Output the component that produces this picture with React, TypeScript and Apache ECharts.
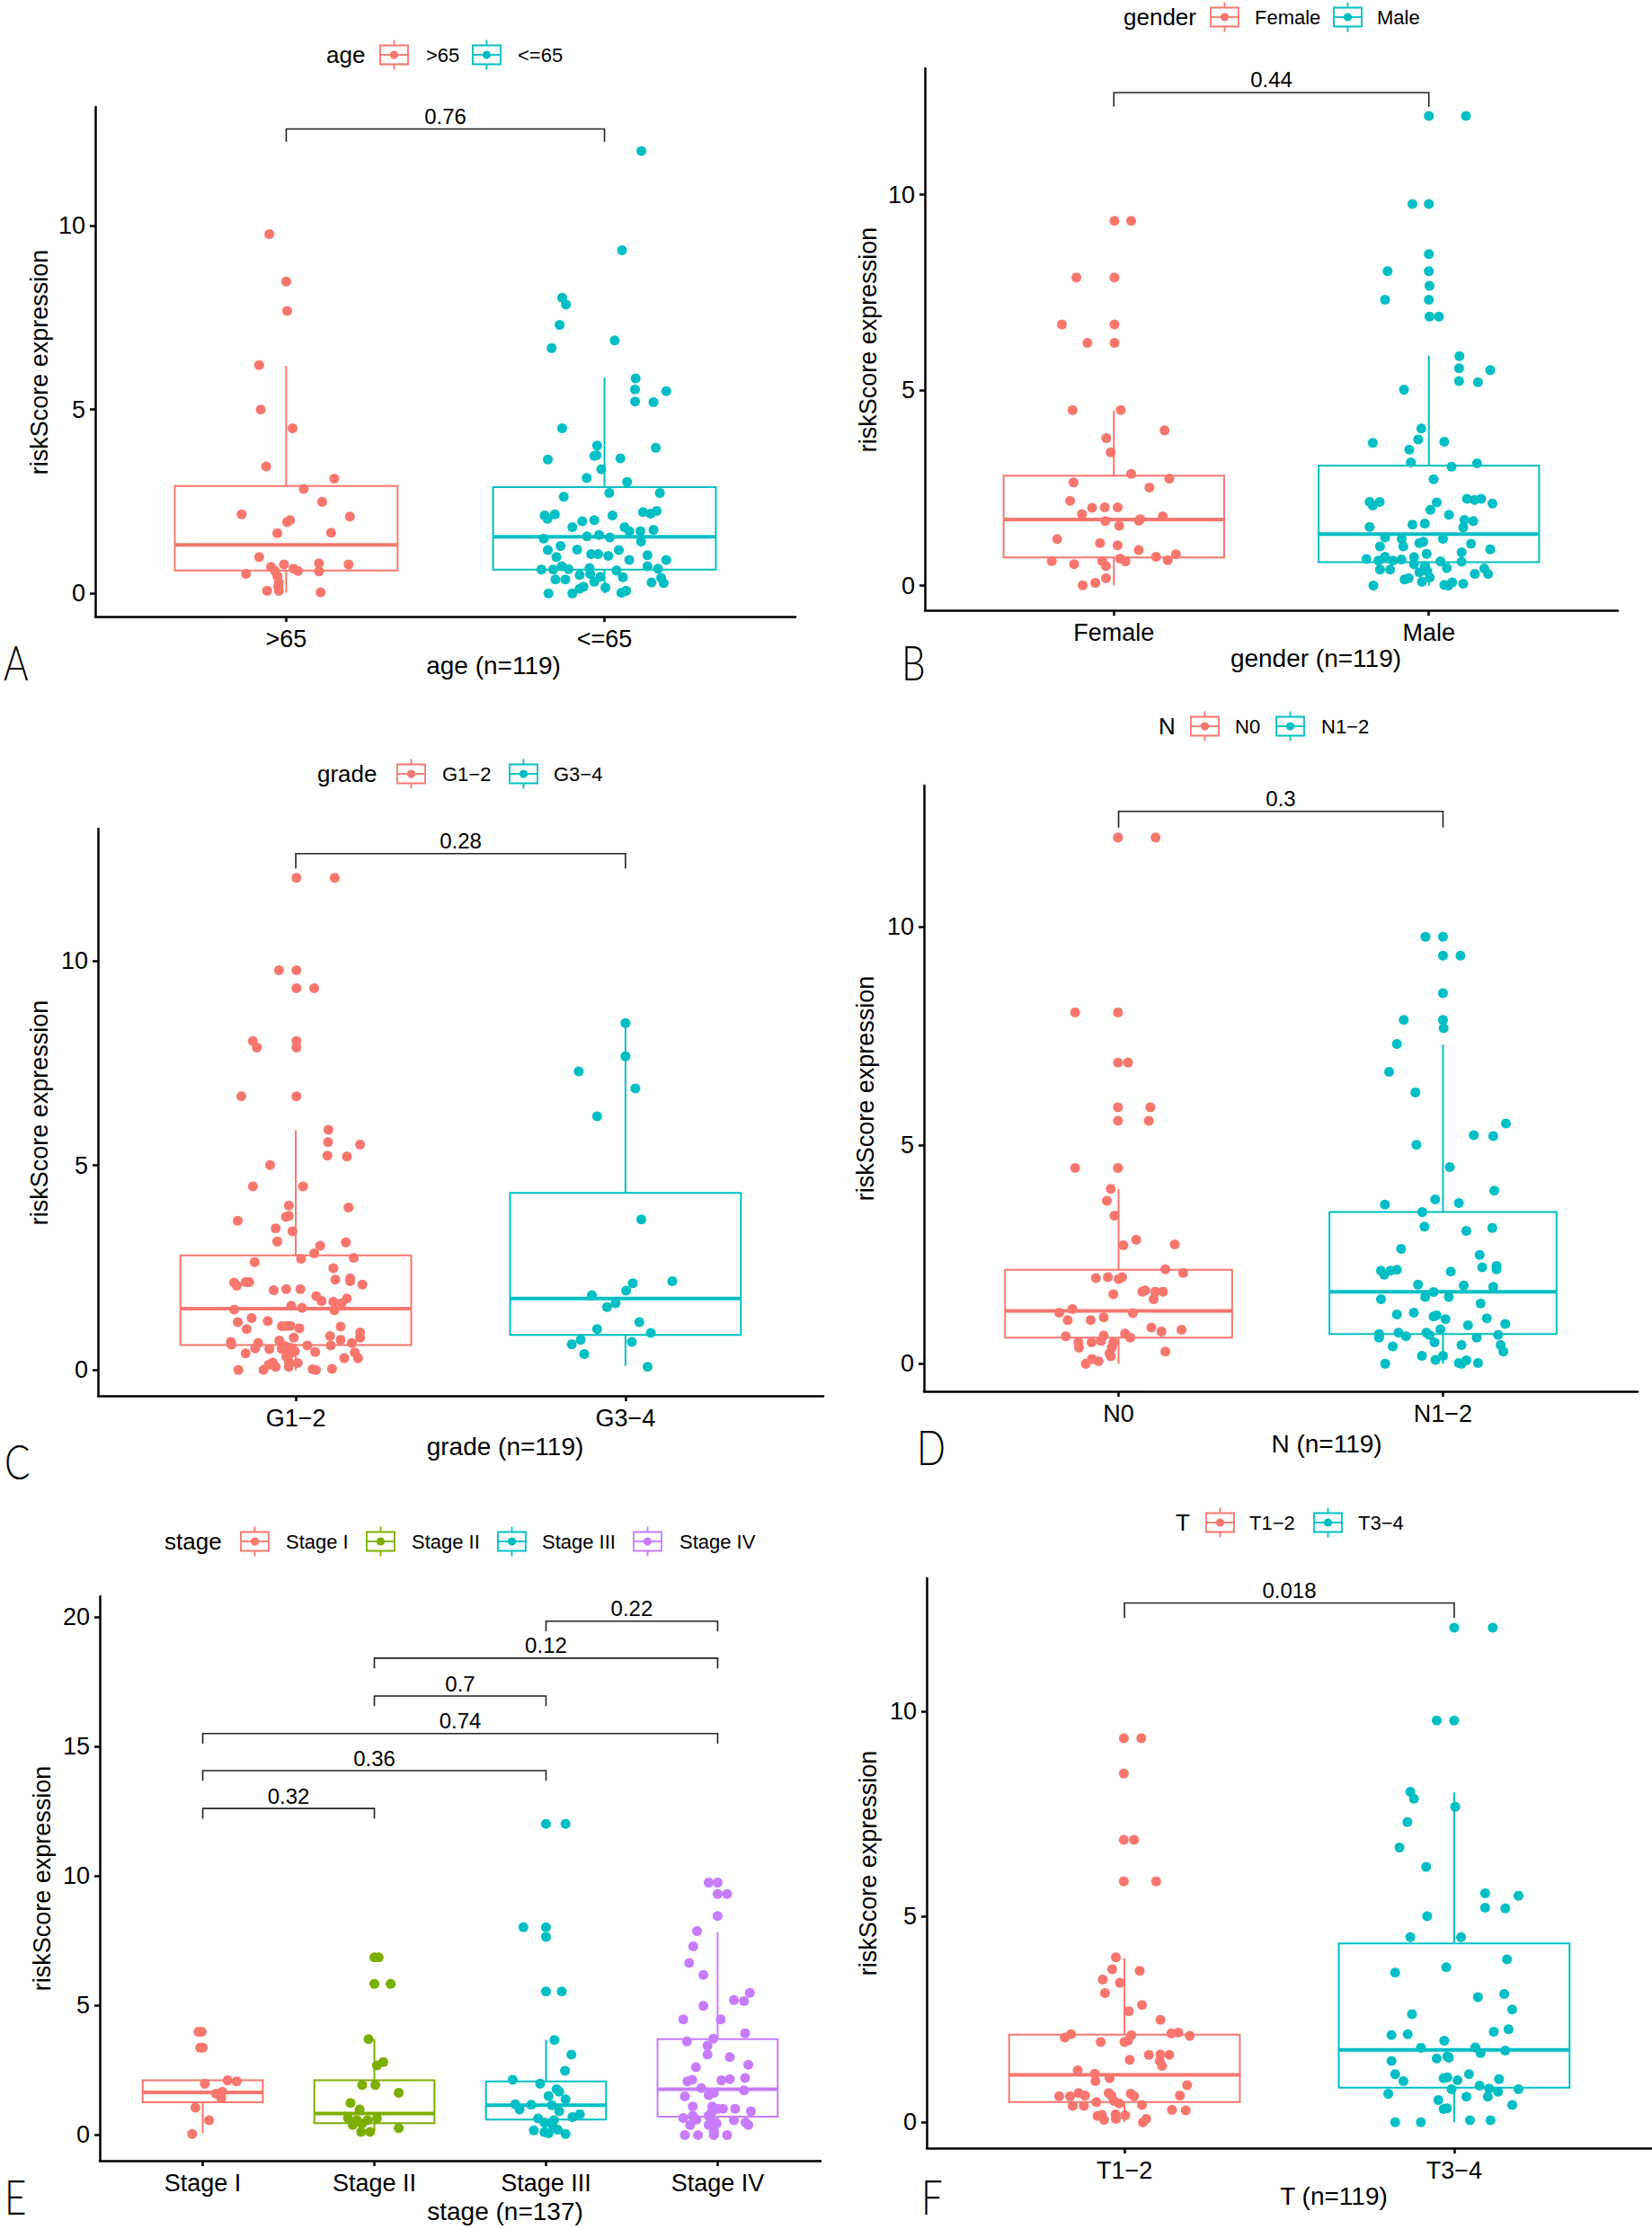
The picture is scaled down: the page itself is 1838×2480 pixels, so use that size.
import React, { useEffect, useRef } from "react";
import * as echarts from "echarts";

const FONT = "'Liberation Sans', Arial, Helvetica, sans-serif";
const LETTER_FONT = "Lato, 'DejaVu Sans', sans-serif";
const C2 = ["#F8766D", "#00BFC4"];
const C4 = ["#F8766D", "#7CAE00", "#00BFC4", "#C77CFF"];

// ---------- Panel A: age ----------
const AGE_CATS = [">65", "<=65"];
const AGE_GT65: number[][] = [
  [-0.053, 9.77], [0, 8.48], [0.003, 7.68], [-0.085, 6.21], [-0.08, 5.0], [0.02, 4.49], [-0.063, 3.45], [0.151, 3.12],
  [0.055, 2.84], [0.113, 2.49], [-0.14, 2.15], [0.2, 2.09], [0.012, 1.99], [0.003, 1.94], [-0.028, 1.64], [0.141, 1.65],
  [-0.085, 0.99], [-0.007, 0.79], [-0.048, 0.72], [0.103, 0.82], [0.196, 0.79], [-0.126, 0.53], [-0.035, 0.61],
  [-0.028, 0.47], [-0.023, 0.3], [-0.025, 0.18], [0.023, 0.67], [0.037, 0.61], [0.103, 0.6], [-0.06, 0.07],
  [-0.023, 0.07], [0.108, 0.03],
];
const AGE_LE65: number[][] = [
  [0.116, 12.03], [0.055, 9.33], [-0.133, 8.04], [-0.121, 7.86], [-0.141, 7.3], [-0.166, 6.67], [0.032, 6.88],
  [0.098, 5.85], [0.096, 5.55], [0.194, 5.5], [0.096, 5.22], [0.154, 5.2], [-0.133, 4.49], [-0.023, 4.02], [0.161, 3.96],
  [-0.032, 3.74], [-0.025, 3.76], [-0.178, 3.64], [0.05, 3.67], [-0.01, 3.38], [-0.056, 3.14], [0.071, 3.03],
  [-0.128, 2.63], [0.015, 2.73], [0.174, 2.73], [-0.188, 2.12], [-0.179, 2.03], [-0.156, 2.15], [0.025, 2.12],
  [0.121, 2.21], [0.145, 2.17], [0.164, 2.24], [-0.07, 1.96], [-0.032, 1.99], [-0.101, 1.8], [0.063, 1.8], [0.078, 1.69],
  [0.113, 1.69], [0.154, 1.73], [-0.055, 1.55], [-0.017, 1.59], [0.017, 1.52], [-0.191, 1.49], [0.115, 1.41],
  [-0.138, 1.29], [-0.178, 1.18], [-0.086, 1.19], [0.045, 1.18], [-0.042, 1.07], [-0.02, 1.07], [0.012, 1.02],
  [-0.151, 0.99], [0.135, 1.04], [0.078, 0.91], [0.194, 0.91], [-0.198, 0.65], [-0.161, 0.65], [-0.134, 0.74],
  [-0.113, 0.66], [-0.047, 0.69], [0.038, 0.62], [0.135, 0.74], [0.168, 0.67], [-0.154, 0.38], [-0.123, 0.38],
  [-0.078, 0.5], [-0.045, 0.53], [-0.013, 0.45], [0.058, 0.44], [0.178, 0.42], [-0.032, 0.32], [0.148, 0.3],
  [0.186, 0.28], [-0.078, 0.13], [-0.066, 0.18], [0.003, 0.16], [-0.176, 0], [-0.101, 0], [0.053, 0.02], [0.068, 0.07],
];
// [lower whisker, Q1, median, Q3, upper whisker]
const AGE_BOX = [[0.02, 0.62, 1.32, 2.92, 6.19], [0, 0.65, 1.54, 2.89, 5.87]];
const AGE_P = [{ from: 1, to: 2, y: 12.63, p: "0.76" }];

// ---------- Panel B: gender ----------
const GENDER_CATS = ["Female", "Male"];
const GENDER_F: number[][] = [
  [0.002, 9.33], [0.055, 9.33], [-0.119, 7.88], [0.002, 7.88], [-0.165, 6.68], [0.002, 6.68], [-0.084, 6.21],
  [0.002, 6.21], [-0.131, 4.49], [0.022, 4.49], [0.161, 3.97], [-0.024, 3.77], [-0.01, 3.41], [0.055, 2.86],
  [0.176, 2.74], [-0.128, 2.64], [0.113, 2.51], [-0.139, 2.17], [-0.069, 1.99], [-0.029, 2.0], [0.012, 2.0],
  [-0.101, 1.83], [0.155, 1.77], [-0.027, 1.65], [0.079, 1.66], [0.084, 1.7], [0.017, 1.53], [-0.18, 1.19],
  [-0.044, 1.09], [0.012, 1.03], [0.079, 0.91], [0.197, 0.8], [0.134, 0.74], [0.171, 0.65], [-0.197, 0.63],
  [-0.037, 0.63], [0.02, 0.69], [0.037, 0.62], [-0.126, 0.55], [-0.025, 0.5], [-0.025, 0.19], [-0.059, 0.07],
  [-0.099, 0.01],
];
const GENDER_M: number[][] = [
  [0, 12.01], [0.118, 12.01], [-0.052, 9.76], [0, 9.76], [0, 8.48], [-0.131, 8.04], [0, 8.04], [0.002, 7.67],
  [-0.139, 7.31], [0, 7.31], [0.002, 6.88], [0.032, 6.88], [0.097, 5.87], [0.096, 5.56], [0.195, 5.51], [0.096, 5.23],
  [0.156, 5.2], [-0.079, 5.01], [-0.024, 4.02], [-0.034, 3.74], [-0.178, 3.65], [0.049, 3.68], [-0.062, 3.48],
  [-0.057, 3.15], [0.153, 3.13], [0.072, 3.04], [0.015, 2.72], [0.121, 2.22], [0.145, 2.19], [0.166, 2.22],
  [0.202, 2.1], [-0.188, 2.14], [-0.178, 2.05], [-0.156, 2.14], [0.025, 2.13], [0.005, 1.94], [0.064, 1.81],
  [0.113, 1.68], [0.141, 1.65], [-0.052, 1.56], [-0.013, 1.59], [-0.188, 1.5], [0.109, 1.49], [-0.139, 1.23],
  [-0.086, 1.2], [0.045, 1.2], [-0.03, 1.09], [-0.018, 1.12], [-0.155, 1.0], [-0.081, 1.0], [0.134, 1.07],
  [0.195, 0.93], [0.104, 0.85], [-0.007, 0.81], [-0.139, 0.74], [-0.047, 0.73], [-0.087, 0.67], [-0.198, 0.68],
  [-0.16, 0.64], [-0.114, 0.64], [0.037, 0.62], [0.104, 0.61], [-0.047, 0.55], [-0.013, 0.5], [-0.155, 0.41],
  [-0.123, 0.41], [0.057, 0.45], [0.176, 0.44], [-0.03, 0.34], [-0.005, 0.37], [0.146, 0.3], [0.188, 0.3],
  [-0.077, 0.16], [-0.064, 0.19], [0.003, 0.21], [-0.176, 0], [-0.022, 0.1], [0.049, 0.02], [0.062, 0], [0.074, 0.08],
  [0.109, 0.05],
];
const GENDER_BOX = [[0, 0.72, 1.69, 2.81, 4.48], [0, 0.6, 1.32, 3.07, 5.88]];
const GENDER_P = [{ from: 1, to: 2, y: 12.61, p: "0.44" }];

// ---------- Panel C: grade ----------
const GRADE_CATS = ["G1\u22122", "G3\u22124"];
const GRADE_12: number[][] = [
  [0.002, 12.03], [0.118, 12.03], [-0.051, 9.77], [0.002, 9.77], [0.002, 9.33], [0.056, 9.33], [-0.13, 8.04],
  [0.002, 8.04], [-0.118, 7.88], [0.002, 7.88], [-0.165, 6.69], [0.002, 6.69], [0.099, 5.87], [0.098, 5.57],
  [0.195, 5.51], [0.096, 5.24], [0.155, 5.22], [-0.078, 5.01], [-0.13, 4.49], [0.022, 4.49], [-0.021, 4.02],
  [0.16, 3.97], [-0.03, 3.74], [-0.021, 3.77], [-0.176, 3.65], [-0.061, 3.46], [-0.01, 3.39], [-0.056, 3.14],
  [0.152, 3.12], [0.074, 3.04], [0.056, 2.85], [0.016, 2.72], [0.176, 2.74], [-0.125, 2.64], [0.114, 2.49],
  [-0.187, 2.14], [-0.179, 2.06], [-0.152, 2.15], [-0.141, 2.15], [0.12, 2.21], [0.165, 2.24], [0.165, 2.17],
  [0.202, 2.09], [-0.067, 1.95], [-0.029, 1.98], [0.014, 1.98], [0.062, 1.81], [0.078, 1.69], [0.114, 1.67],
  [0.155, 1.75], [0.139, 1.63], [-0.014, 1.57], [0.019, 1.52], [-0.187, 1.48], [0.117, 1.46], [-0.134, 1.27],
  [-0.085, 1.2], [-0.176, 1.17], [-0.149, 1.0], [-0.042, 1.07], [-0.029, 1.08], [-0.016, 1.08], [0.011, 1.02],
  [0.136, 1.06], [0.195, 0.92], [0.195, 0.79], [0.104, 0.83], [-0.006, 0.79], [-0.197, 0.69], [-0.195, 0.62],
  [-0.114, 0.66], [-0.05, 0.72], [-0.037, 0.6], [-0.027, 0.56], [0.035, 0.6], [0.106, 0.6], [0.136, 0.74],
  [0.17, 0.66], [-0.123, 0.53], [-0.08, 0.51], [-0.043, 0.52], [-0.013, 0.54], [-0.003, 0.46], [-0.152, 0.41],
  [0.059, 0.44], [0.179, 0.43], [-0.029, 0.33], [-0.016, 0.4], [0.147, 0.29], [0.189, 0.29], [-0.07, 0.18],
  [-0.082, 0.13], [-0.021, 0.2], [0.006, 0.17], [-0.061, 0.08], [-0.174, 0], [-0.098, 0], [-0.021, 0.08],
  [0.051, 0.02], [0.061, 0], [0.11, 0.03],
];
const GRADE_34: number[][] = [
  [0, 8.48], [0, 7.67], [-0.142, 7.3], [0.03, 6.88], [-0.086, 6.2], [0.048, 3.68], [0.142, 2.17], [0.022, 2.12],
  [0.002, 1.94], [-0.102, 1.83], [-0.03, 1.63], [-0.056, 1.54], [0.042, 1.17], [-0.086, 1.0], [0.077, 0.91],
  [-0.136, 0.74], [-0.163, 0.63], [0.019, 0.69], [-0.125, 0.39], [0.067, 0.08],
];
const GRADE_BOX = [[0, 0.61, 1.5, 2.8, 5.86], [0.1, 0.86, 1.75, 4.33, 8.48]];
const GRADE_P = [{ from: 1, to: 2, y: 12.62, p: "0.28" }];

// ---------- Panel D: N ----------
const N_CATS = ["N0", "N1\u22122"];
const N_0: number[][] = [
  [-0.002, 12.04], [0.114, 12.04], [-0.134, 8.04], [-0.002, 8.04], [-0.002, 6.89], [0.029, 6.89], [-0.002, 5.87],
  [0.098, 5.87], [-0.002, 5.56], [0.093, 5.56], [-0.134, 4.48], [-0.002, 4.48], [-0.024, 4.0], [-0.036, 3.73],
  [-0.013, 3.39], [0.054, 2.84], [0.173, 2.73], [0.015, 2.71], [0.144, 2.16], [0.199, 2.08], [-0.07, 1.96],
  [-0.033, 1.98], [0, 1.94], [0.011, 1.98], [0.073, 1.65], [0.082, 1.68], [0.113, 1.65], [0.137, 1.65],
  [-0.016, 1.59], [0.108, 1.48], [-0.142, 1.25], [-0.183, 1.17], [0.044, 1.16], [-0.157, 1.0], [-0.086, 1.0],
  [-0.046, 1.06], [0.101, 0.83], [0.132, 0.74], [0.194, 0.78], [-0.163, 0.63], [-0.046, 0.65], [0.02, 0.69],
  [0.036, 0.6], [-0.124, 0.49], [-0.083, 0.49], [-0.054, 0.52], [-0.016, 0.49], [-0.122, 0.37], [-0.021, 0.37],
  [0.144, 0.28], [-0.028, 0.24], [-0.024, 0.17], [-0.082, 0.11], [-0.062, 0.06], [-0.101, 0],
];
const N_12: number[][] = [
  [-0.054, 9.77], [0, 9.77], [0, 9.34], [0.054, 9.34], [0, 8.48], [-0.121, 7.87], [0, 7.87], [0.002, 7.68],
  [-0.142, 7.32], [-0.166, 6.68], [-0.085, 6.21], [0.194, 5.5], [0.095, 5.23], [0.155, 5.21], [-0.082, 5.01],
  [0.021, 4.5], [0.158, 3.96], [-0.024, 3.76], [0.049, 3.68], [-0.179, 3.64], [-0.064, 3.47], [-0.057, 3.14],
  [0.152, 3.11], [0.072, 3.04], [-0.129, 2.63], [0.113, 2.49], [-0.191, 2.13], [-0.181, 2.04], [-0.162, 2.13],
  [-0.142, 2.15], [0.121, 2.21], [0.165, 2.24], [0.165, 2.16], [0.024, 2.11], [-0.077, 1.81], [0.064, 1.79],
  [0.155, 1.76], [-0.029, 1.64], [-0.055, 1.53], [0.018, 1.53], [-0.191, 1.48], [0.116, 1.38], [-0.142, 1.13],
  [-0.09, 1.17], [-0.029, 1.08], [-0.02, 1.11], [0.008, 1.02], [0.135, 1.04], [0.192, 0.91], [0.077, 0.88],
  [-0.008, 0.79], [-0.197, 0.68], [-0.197, 0.6], [-0.137, 0.71], [-0.114, 0.63], [-0.051, 0.71], [-0.042, 0.66],
  [0.104, 0.6], [0.17, 0.66], [-0.155, 0.4], [-0.026, 0.49], [0.057, 0.43], [0.178, 0.43], [0.186, 0.28],
  [-0.065, 0.18], [-0.023, 0.09], [0, 0.18], [-0.178, 0], [0.049, 0.02], [0.072, 0.08], [0.057, 0], [0.108, 0.02],
];
const N_BOX = [[0, 0.6, 1.21, 2.15, 4.0], [0, 0.68, 1.65, 3.47, 7.3]];
const N_P = [{ from: 1, to: 2, y: 12.64, p: "0.3" }];

// ---------- Panel E: stage ----------
const STAGE_CATS = ["Stage I", "Stage II", "Stage III", "Stage IV"];
const STAGE_1: number[][] = [
  [-0.025, 3.99], [-0.006, 3.99], [-0.015, 3.37], [0, 3.37], [0.145, 2.11], [0.197, 2.07], [0.012, 1.98],
  [0.077, 1.59], [0.114, 1.67], [0.108, 1.43], [-0.043, 1.06], [0.037, 0.57], [-0.062, 0.04],
];
const STAGE_2: number[][] = [
  [0, 6.86], [0.025, 6.86], [0, 5.83], [0.095, 5.83], [-0.034, 3.7], [0.052, 2.82], [0.015, 2.69], [-0.071, 1.93],
  [0.006, 1.93], [0.142, 1.63], [-0.139, 1.24], [-0.086, 0.99], [-0.154, 0.66], [-0.102, 0.57], [-0.04, 0.57],
  [0.015, 0.64], [-0.126, 0.39], [-0.071, 0.44], [0.142, 0.27], [-0.077, 0.12], [-0.025, 0.12],
];
const STAGE_3: number[][] = [
  [0, 12.01], [0.114, 12.01], [-0.132, 8.02], [0, 8.02], [0, 7.65], [0, 5.54], [0.092, 5.54], [0.049, 3.67],
  [0.148, 3.1], [0.111, 2.48], [-0.194, 2.13], [-0.034, 1.98], [0.062, 1.77], [0.077, 1.67], [0.015, 1.51],
  [0.114, 1.38], [-0.179, 1.19], [-0.086, 1.17], [-0.154, 0.99], [0.034, 1.15], [0.077, 0.92], [0.197, 0.8],
  [0.154, 0.69], [-0.046, 0.64], [0.046, 0.57], [-0.009, 0.48], [0.037, 0.39], [-0.071, 0.18], [-0.009, 0.11],
  [0.068, 0.21], [0.114, 0.04], [0.015, 0.07],
];
const STAGE_4: number[][] = [
  [-0.052, 9.74], [0, 9.74], [0, 9.3], [0.055, 9.3], [0, 8.45], [-0.12, 7.87], [-0.142, 7.28], [-0.166, 6.64],
  [-0.083, 6.18], [0.188, 5.49], [0.095, 5.21], [0.154, 5.17], [-0.083, 4.98], [-0.2, 4.46], [0.018, 4.46],
  [0.16, 3.93], [-0.025, 3.72], [-0.179, 3.61], [-0.059, 3.45], [-0.059, 3.1], [0.071, 3.01], [0.179, 2.71],
  [-0.126, 2.62], [-0.176, 2.07], [-0.148, 2.13], [0.022, 2.11], [0.071, 2.16], [0.16, 2.2], [-0.095, 1.81],
  [0.154, 1.72], [-0.191, 1.49], [-0.052, 1.54], [-0.022, 1.63], [-0.145, 1.1], [-0.031, 1.1], [0, 1.01],
  [-0.031, 0.92], [0.031, 1.01], [0.102, 1.01], [0.194, 0.92], [-0.2, 0.66], [-0.145, 0.74], [-0.123, 0.6],
  [-0.052, 0.74], [-0.037, 0.6], [0.095, 0.57], [0.163, 0.48], [0.179, 0.39], [-0.16, 0.39], [-0.052, 0.39],
  [-0.006, 0.44], [-0.022, 0.12], [-0.191, 0], [-0.114, 0], [-0.022, 0], [0.055, 0],
];
const STAGE_BOX = [
  [0.07, 1.26, 1.65, 2.11, 2.11],
  [0.12, 0.46, 0.83, 2.11, 3.7],
  [0.04, 0.6, 1.15, 2.07, 3.67],
  [0, 0.71, 1.77, 3.7, 7.83],
];
const STAGE_P = [
  { from: 3, to: 4, y: 19.83, p: "0.22" },
  { from: 2, to: 4, y: 18.4, p: "0.12" },
  { from: 2, to: 3, y: 16.94, p: "0.7" },
  { from: 1, to: 4, y: 15.49, p: "0.74" },
  { from: 1, to: 3, y: 14.06, p: "0.36" },
  { from: 1, to: 2, y: 12.6, p: "0.32" },
];

// ---------- Panel F: T ----------
const T_CATS = ["T1\u22122", "T3\u22124"];
const T_12: number[][] = [
  [-0.002, 9.34], [0.051, 9.34], [-0.002, 8.48], [-0.002, 6.87], [0.029, 6.87], [-0.002, 5.86], [0.096, 5.86],
  [-0.026, 4.01], [-0.037, 3.72], [0.046, 3.68], [-0.066, 3.47], [-0.014, 3.39], [-0.059, 3.14], [0.053, 2.85],
  [0.013, 2.7], [0.109, 2.49], [-0.181, 2.06], [-0.162, 2.14], [0.021, 2.12], [0.142, 2.16], [0.163, 2.18],
  [0.198, 2.1], [-0.072, 1.95], [0, 1.95], [0.011, 1.99], [0.074, 1.64], [0.109, 1.65], [0.136, 1.64], [0.016, 1.52],
  [0.107, 1.49], [0.114, 1.37], [-0.142, 1.26], [-0.09, 1.18], [-0.045, 1.07], [-0.088, 1.0], [0.19, 0.9],
  [-0.198, 0.63], [-0.165, 0.63], [-0.12, 0.65], [-0.139, 0.71], [-0.048, 0.71], [-0.04, 0.65], [0.019, 0.69],
  [0.029, 0.63], [0.168, 0.65], [-0.085, 0.49], [-0.032, 0.52], [-0.016, 0.46], [0.053, 0.42], [-0.157, 0.4],
  [-0.123, 0.4], [0.144, 0.3], [0.186, 0.29], [-0.082, 0.15], [-0.069, 0.18], [-0.027, 0.19], [0.002, 0.17],
  [-0.062, 0.06], [-0.026, 0.08], [0.066, 0.08], [0.056, 0],
];
const T_34: number[][] = [
  [0, 12.03], [0.117, 12.03], [-0.053, 9.77], [0, 9.77], [-0.133, 8.04], [-0.122, 7.87], [0.003, 7.67], [-0.142, 7.3],
  [-0.166, 6.68], [-0.085, 6.21], [0.094, 5.57], [0.195, 5.51], [0.094, 5.22], [0.155, 5.2], [-0.082, 5.01],
  [-0.133, 4.5], [0.021, 4.5], [0.16, 3.96], [-0.024, 3.77], [-0.179, 3.64], [0.072, 3.04], [0.152, 3.12],
  [-0.128, 2.63], [0.176, 2.74], [-0.19, 2.12], [-0.141, 2.14], [0.12, 2.2], [0.165, 2.26], [-0.03, 1.98],
  [-0.101, 1.81], [0.064, 1.82], [0.08, 1.68], [0.155, 1.74], [-0.053, 1.55], [-0.021, 1.6], [-0.016, 1.57],
  [-0.19, 1.49], [-0.179, 1.17], [-0.154, 1.0], [-0.032, 1.07], [-0.021, 1.09], [0.01, 1.02], [0.045, 1.17],
  [0.136, 1.05], [0.077, 0.89], [0.106, 0.82], [0.133, 0.74], [0.195, 0.8], [-0.008, 0.8], [-0.2, 0.69],
  [0.037, 0.62], [0.102, 0.62], [-0.048, 0.54], [0.176, 0.42], [-0.032, 0.32], [-0.022, 0.34], [-0.179, 0],
  [-0.101, 0], [0.048, 0.05], [0.11, 0.05],
];
const T_BOX = [[0, 0.49, 1.15, 2.13, 3.99], [0, 0.84, 1.76, 4.35, 8.02]];
const T_P = [{ from: 1, to: 2, y: 12.63, p: "0.018" }];

const Y_TICKS_13 = [0, 5, 10];
const Y_TICKS_20 = [0, 5, 10, 15, 20];

type Panel = {
  letter: string;
  letterPos: number[];
  grid: { left: number; top: number; width: number; height: number };
  cats: string[];
  groups: number[][][];
  boxes: number[][];
  colors: string[];
  yMin: number;
  yMax: number;
  yTicks: number[];
  brackets: { from: number; to: number; y: number; p: string }[];
  tip: number;
  legendTitle: string;
  legendY: number;
  legendTitleX: number;
  legendKeyX: number[];
  legendLabelX: number[];
  xTitle: string;
  xTitlePos: number[];
  yTitlePos: number[];
};

const PANELS: Panel[] = [
  {
    letter: "A", letterPos: [4, 736], grid: { left: 106, top: 119, width: 779, height: 567 },
    cats: AGE_CATS, groups: [AGE_GT65, AGE_LE65], boxes: AGE_BOX, colors: C2,
    yMin: -0.63, yMax: 13.23, yTicks: Y_TICKS_13, brackets: AGE_P, tip: 0.35,
    legendTitle: "age", legendY: 61, legendTitleX: 363, legendKeyX: [423, 526], legendLabelX: [474, 576],
    xTitle: "age (n=119)", xTitlePos: [549, 740], yTitlePos: [44, 403],
  },
  {
    letter: "B", letterPos: [1003, 736], grid: { left: 1029, top: 76, width: 771, height: 603 },
    cats: GENDER_CATS, groups: [GENDER_F, GENDER_M], boxes: GENDER_BOX, colors: C2,
    yMin: -0.63, yMax: 13.23, yTicks: Y_TICKS_13, brackets: GENDER_P, tip: 0.36,
    legendTitle: "gender", legendY: 19, legendTitleX: 1250, legendKeyX: [1347, 1484], legendLabelX: [1396, 1532],
    xTitle: "gender (n=119)", xTitlePos: [1464, 732], yTitlePos: [966, 378],
  },
  {
    letter: "C", letterPos: [5, 1625], grid: { left: 109, top: 922, width: 807, height: 631 },
    cats: GRADE_CATS, groups: [GRADE_12, GRADE_34], boxes: GRADE_BOX, colors: C2,
    yMin: -0.63, yMax: 13.23, yTicks: Y_TICKS_13, brackets: GRADE_P, tip: 0.36,
    legendTitle: "grade", legendY: 861, legendTitleX: 353, legendKeyX: [442, 567], legendLabelX: [492, 616],
    xTitle: "grade (n=119)", xTitlePos: [562, 1609], yTitlePos: [44, 1238],
  },
  {
    letter: "D", letterPos: [1020, 1609], grid: { left: 1028, top: 874, width: 794, height: 674 },
    cats: N_CATS, groups: [N_0, N_12], boxes: N_BOX, colors: C2,
    yMin: -0.63, yMax: 13.23, yTicks: Y_TICKS_13, brackets: N_P, tip: 0.37,
    legendTitle: "N", legendY: 808, legendTitleX: 1289, legendKeyX: [1325, 1420], legendLabelX: [1374, 1470],
    xTitle: "N (n=119)", xTitlePos: [1476, 1606], yTitlePos: [963, 1211],
  },
  {
    letter: "E", letterPos: [5, 2443], grid: { left: 111, top: 1776, width: 802, height: 628 },
    cats: STAGE_CATS, groups: [STAGE_1, STAGE_2, STAGE_3, STAGE_4], boxes: STAGE_BOX, colors: C4,
    yMin: -0.99, yMax: 20.79, yTicks: Y_TICKS_20, brackets: STAGE_P, tip: 0.39,
    legendTitle: "stage", legendY: 1715, legendTitleX: 183, legendKeyX: [268, 408, 554, 705],
    legendLabelX: [318, 458, 603, 756],
    xTitle: "stage (n=137)", xTitlePos: [562, 2460], yTitlePos: [47, 2090],
  },
  {
    letter: "F", letterPos: [1025, 2443], grid: { left: 1031, top: 1756, width: 809, height: 634 },
    cats: T_CATS, groups: [T_12, T_34], boxes: T_BOX, colors: C2,
    yMin: -0.63, yMax: 13.23, yTicks: Y_TICKS_13, brackets: T_P, tip: 0.37,
    legendTitle: "T", legendY: 1694, legendTitleX: 1308, legendKeyX: [1342, 1462], legendLabelX: [1390, 1511],
    xTitle: "T (n=119)", xTitlePos: [1484, 2443], yTitlePos: [966, 2073],
  },
];

function legendKey(x: number, yc: number, color: string) {
  const w = 31;
  const h = 21;
  const cx = x + w / 2;
  const lw = 1.8;
  return {
    type: "group",
    silent: true,
    children: [
      { type: "line", shape: { x1: cx, y1: yc - h / 2 - 6, x2: cx, y2: yc - h / 2 }, style: { stroke: color, lineWidth: lw } },
      { type: "line", shape: { x1: cx, y1: yc + h / 2, x2: cx, y2: yc + h / 2 + 6 }, style: { stroke: color, lineWidth: lw } },
      { type: "rect", shape: { x, y: yc - h / 2, width: w, height: h }, style: { fill: "#fff", stroke: color, lineWidth: lw } },
      { type: "line", shape: { x1: x, y1: yc, x2: x + w, y2: yc }, style: { stroke: color, lineWidth: lw } },
      { type: "circle", shape: { cx, cy: yc, r: 4.6 }, style: { fill: color } },
    ],
  };
}

function buildOption() {
  const grid: any[] = [];
  const xAxis: any[] = [];
  const yAxis: any[] = [];
  const series: any[] = [];
  const graphic: any[] = [];

  PANELS.forEach((P, i) => {
    const n = P.cats.length;
    const idx = P.cats.map((_, k) => k + 1);
    grid.push({ ...P.grid, containLabel: false });
    xAxis.push({
      gridIndex: i,
      type: "value",
      min: 0.4,
      max: n + 0.6,
      axisLine: { show: true, onZero: false, lineStyle: { color: "#000", width: 2.5 } },
      axisTick: { show: true, customValues: idx, length: 6, lineStyle: { color: "#000", width: 2.5 } },
      axisLabel: {
        show: true,
        customValues: idx,
        formatter: (v: number) => P.cats[Math.round(v) - 1] ?? "",
        fontSize: 27,
        color: "#000",
        fontFamily: FONT,
        margin: 11,
      },
      splitLine: { show: false },
    });
    yAxis.push({
      gridIndex: i,
      type: "value",
      min: P.yMin,
      max: P.yMax,
      axisLine: { show: true, onZero: false, lineStyle: { color: "#000", width: 2.5 } },
      axisTick: { show: true, customValues: P.yTicks, length: 6, lineStyle: { color: "#000", width: 2.5 } },
      axisLabel: {
        show: true,
        customValues: P.yTicks,
        formatter: (v: number) => String(v),
        fontSize: 27,
        color: "#000",
        fontFamily: FONT,
        margin: 11,
      },
      splitLine: { show: false },
    });

    // boxes
    const colors = P.colors;
    series.push({
      type: "custom",
      xAxisIndex: i,
      yAxisIndex: i,
      silent: true,
      z: 2,
      data: P.boxes.map((b, g) => [g + 1, ...b]),
      renderItem: (params: any, api: any) => {
        const x = api.value(0);
        const lo = api.value(1);
        const q1 = api.value(2);
        const med = api.value(3);
        const q3 = api.value(4);
        const hi = api.value(5);
        const color = colors[params.dataIndex];
        const pLo = api.coord([x, lo]);
        const pQ1 = api.coord([x, q1]);
        const pMed = api.coord([x, med]);
        const pQ3 = api.coord([x, q3]);
        const pHi = api.coord([x, hi]);
        const left = api.coord([x - 0.35, q1])[0];
        const right = api.coord([x + 0.35, q1])[0];
        const children: any[] = [
          { type: "line", shape: { x1: pLo[0], y1: pLo[1], x2: pQ1[0], y2: pQ1[1] }, style: { stroke: color, lineWidth: 2 } },
        ];
        if (hi > q3) {
          children.push({ type: "line", shape: { x1: pQ3[0], y1: pQ3[1], x2: pHi[0], y2: pHi[1] }, style: { stroke: color, lineWidth: 2 } });
        }
        children.push(
          { type: "rect", shape: { x: left, y: pQ3[1], width: right - left, height: pQ1[1] - pQ3[1] }, style: { fill: "#fff", stroke: color, lineWidth: 2 } },
          { type: "line", shape: { x1: left, y1: pMed[1], x2: right, y2: pMed[1] }, style: { stroke: color, lineWidth: 4 } },
        );
        return { type: "group", children };
      },
    });

    // jittered points
    P.groups.forEach((pts, g) => {
      series.push({
        type: "scatter",
        name: P.cats[g],
        xAxisIndex: i,
        yAxisIndex: i,
        silent: true,
        z: 3,
        symbol: "circle",
        symbolSize: 11,
        itemStyle: { color: colors[g], opacity: 1 },
        data: pts.map(([dx, y]) => [g + 1 + dx, y]),
      });
    });

    // significance brackets
    const br = P.brackets;
    const tip = P.tip;
    series.push({
      type: "custom",
      xAxisIndex: i,
      yAxisIndex: i,
      silent: true,
      z: 4,
      data: br.map((b) => [b.from, b.to, b.y]),
      renderItem: (params: any, api: any) => {
        const x1 = api.value(0);
        const x2 = api.value(1);
        const y = api.value(2);
        const a = api.coord([x1, y - tip]);
        const b = api.coord([x1, y]);
        const c = api.coord([x2, y]);
        const d = api.coord([x2, y - tip]);
        return {
          type: "group",
          children: [
            { type: "polyline", shape: { points: [a, b, c, d] }, style: { stroke: "#222", lineWidth: 1.6, fill: null } },
            {
              type: "text",
              x: (b[0] + c[0]) / 2,
              y: b[1] - 14,
              style: {
                text: br[params.dataIndex].p,
                fontSize: 24,
                fontFamily: FONT,
                fill: "#000",
                align: "center",
                verticalAlign: "middle",
              },
            },
          ],
        };
      },
    });

    // legend
    graphic.push({
      type: "text",
      x: P.legendTitleX,
      y: P.legendY,
      silent: true,
      style: { text: P.legendTitle, fontSize: 26, fontFamily: FONT, fill: "#000", align: "left", verticalAlign: "middle" },
    });
    P.cats.forEach((c, g) => {
      graphic.push(legendKey(P.legendKeyX[g], P.legendY, colors[g]));
      graphic.push({
        type: "text",
        x: P.legendLabelX[g],
        y: P.legendY,
        silent: true,
        style: { text: c, fontSize: 22, fontFamily: FONT, fill: "#000", align: "left", verticalAlign: "middle" },
      });
    });
    // axis titles
    graphic.push({
      type: "text",
      x: P.xTitlePos[0],
      y: P.xTitlePos[1],
      silent: true,
      style: { text: P.xTitle, fontSize: 28, fontFamily: FONT, fill: "#000", align: "center", verticalAlign: "middle" },
    });
    graphic.push({
      type: "text",
      x: P.yTitlePos[0],
      y: P.yTitlePos[1],
      rotation: Math.PI / 2,
      silent: true,
      style: { text: "riskScore expression", fontSize: 27, fontFamily: FONT, fill: "#000", align: "center", verticalAlign: "middle" },
    });
    // panel letter (thin, narrow glyph, left-aligned)
    graphic.push({
      type: "text",
      x: P.letterPos[0],
      y: P.letterPos[1],
      scaleX: 0.78,
      silent: true,
      style: {
        text: P.letter,
        fontSize: 54,
        lineHeight: 44,
        fontWeight: 300,
        fontFamily: LETTER_FONT,
        fill: "#000",
        align: "left",
        verticalAlign: "middle",
      },
    });
  });

  return {
    animation: false,
    backgroundColor: "#ffffff",
    textStyle: { fontFamily: FONT },
    grid,
    xAxis,
    yAxis,
    series,
    graphic,
  };
}

export default function App() {
  const ref = useRef<HTMLDivElement>(null);
  useEffect(() => {
    if (!ref.current) return;
    const chart = echarts.init(ref.current, undefined, { renderer: "svg" });
    chart.setOption(buildOption() as any);
    return () => chart.dispose();
  }, []);
  return (
    <div
      ref={ref}
      style={{ position: "absolute", left: 0, top: 0, width: 1838, height: 2480, background: "#fff" }}
    />
  );
}
